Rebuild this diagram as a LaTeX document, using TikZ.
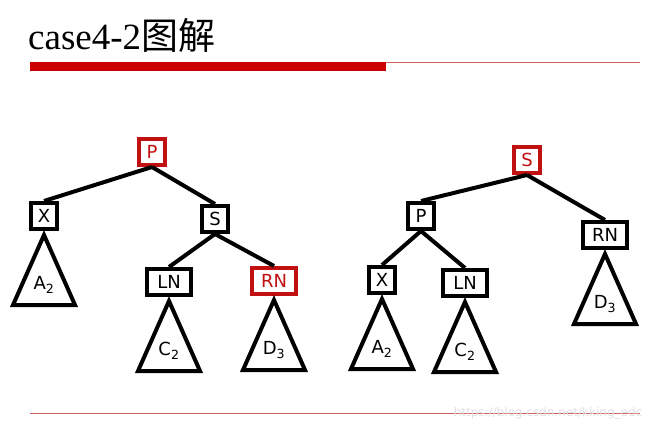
\documentclass[tikz,border=0pt]{standalone}
\usepackage{fontspec}
\setmainfont{Liberation Serif}
\setsansfont{DejaVu Sans}
\newfontfamily\cjk{Noto Sans CJK SC}
\usetikzlibrary{positioning}
\definecolor{slidered}{RGB}{204,0,0}
\definecolor{nodered}{RGB}{192,16,16}
\definecolor{rulered}{RGB}{205,100,100}

\begin{document}
\begin{tikzpicture}[
    x=1pt, y=1pt,
    node distance=60pt, on grid,
    every node/.style={font=\sffamily\fontsize{18}{21}\selectfont},
    key/.style={draw, line width=4pt, inner sep=0pt, minimum width=26pt, minimum height=26pt, fill=white},
    wide/.style={key, minimum width=44pt},
    hot/.style={draw=nodered, text=nodered},
    edge/.style={line width=4pt},
    tri/.style={line width=4pt, line join=miter},
    sub/.style={inner sep=0pt},
    watermark/.style={font=\sffamily\fontsize{12}{14}\selectfont, text=black!12, inner sep=0pt}
]
\useasboundingbox (0,0) rectangle (664,432);

% title and rules
\node[anchor=base west, inner sep=0pt, font=\rmfamily\fontsize{37}{40}\selectfont] (title) at (28,382) {case4-2{\cjk 图解}};
\fill[slidered] (30,361) rectangle (386,370);
\draw[rulered, line width=1pt] (386,369) -- (640,369);
\draw[rulered, line width=1pt] (30,19) -- (640,19);
\node[watermark] (wm) at (548,19) {https://blog.csdn.net/kking\_edc};

% before rotation
\node[key, hot] (p1) at (152,280) {P};
\node[key, below left=64pt and 108pt of p1] (x1) {X};
\node[key, below right=67pt and 63pt of p1] (s1) {S};
\node[wide, below left=63pt and 46pt of s1] (ln1) {LN};
\node[wide, hot, below right=62pt and 59pt of s1] (rn1) {RN};
\draw[edge] (p1.south) -- (x1.north);
\draw[edge] (p1.south) -- (s1.north);
\draw[edge] (s1.south) -- (ln1.north);
\draw[edge] (s1.south) -- (rn1.north);
\draw[tri] ([yshift=-4pt]x1.south) -- ++(-31,-70) -- ++(62,0) -- cycle;
\draw[tri] ([yshift=-4pt]ln1.south) -- ++(-31,-70) -- ++(62,0) -- cycle;
\draw[tri] ([yshift=-4pt]rn1.south) -- ++(-31,-70) -- ++(62,0) -- cycle;
\node[sub] (a1) at ([yshift=-54pt]x1.south) {A\textsubscript{2}};
\node[sub] (c1) at ([yshift=-54pt]ln1.south) {C\textsubscript{2}};
\node[sub] (d1) at ([yshift=-54pt]rn1.south) {D\textsubscript{3}};

% after rotation
\node[key, hot] (s2) at (527,272) {S};
\node[key, below left=56pt and 106pt of s2] (p2) {P};
\node[wide, below right=75pt and 78pt of s2] (rn2) {RN};
\node[key, below left=64pt and 39pt of p2] (x2) {X};
\node[wide, below right=67pt and 44pt of p2] (ln2) {LN};
\draw[edge] (s2.south) -- (p2.north);
\draw[edge] (s2.south) -- (rn2.north);
\draw[edge] (p2.south) -- (x2.north);
\draw[edge] (p2.south) -- (ln2.north);
\draw[tri] ([yshift=-4pt]x2.south) -- ++(-31,-70) -- ++(62,0) -- cycle;
\draw[tri] ([yshift=-4pt]ln2.south) -- ++(-31,-70) -- ++(62,0) -- cycle;
\draw[tri] ([yshift=-4pt]rn2.south) -- ++(-31,-70) -- ++(62,0) -- cycle;
\node[sub] (a2) at ([yshift=-54pt]x2.south) {A\textsubscript{2}};
\node[sub] (c2) at ([yshift=-54pt]ln2.south) {C\textsubscript{2}};
\node[sub] (d2) at ([yshift=-54pt]rn2.south) {D\textsubscript{3}};
\end{tikzpicture}
\end{document}
